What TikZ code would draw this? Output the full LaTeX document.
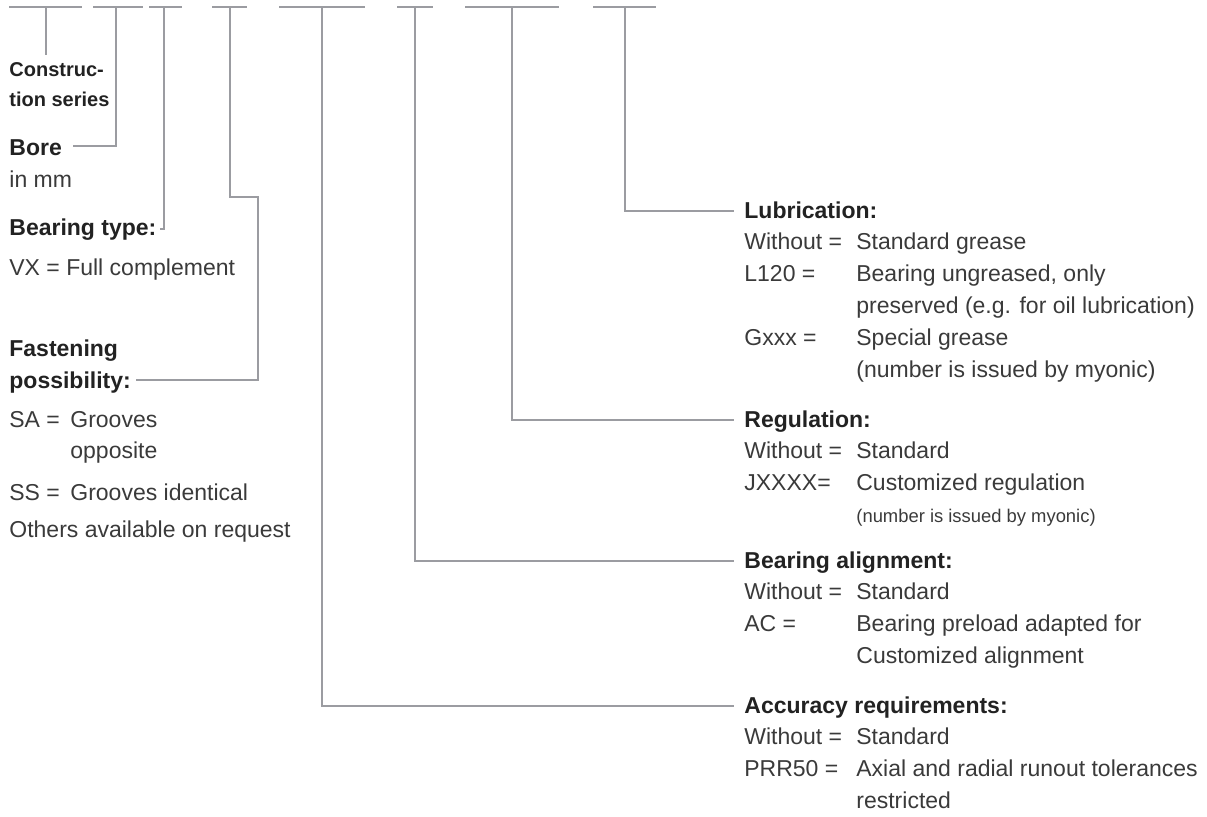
\documentclass[tikz,border=0pt]{standalone}
\usepackage{fontspec}
\setmainfont{Liberation Sans}
\usetikzlibrary{calc}
\usepackage{xcolor}
\definecolor{lngray}{HTML}{9B9CA1}
\definecolor{txtdark}{HTML}{3A3A3A}
\definecolor{hddark}{HTML}{222222}
\newcommand{\hd}[1]{\textcolor{hddark}{\textbf{#1}}}

\begin{document}
\begin{tikzpicture}[x=0.5pt, y=-0.5pt,
    bar/.style={draw=lngray, line width=1.1pt},
    conn/.style={draw=lngray, line width=1.1pt},
    txt/.style={anchor=base west, inner sep=0pt, text=txtdark,
                font=\fontsize{11.5}{15.9}\selectfont}]
  \useasboundingbox (0,0) rectangle (1207,816);

  % code positions along the top
  \foreach \n/\l/\r/\m in {1/9/82/46, 2/93/143/116, 3/149/182/164, 4/212/247/230,
                           5/279/365/322, 6/397/433/415, 7/465/559/512, 8/593/656/625} {
    \draw[bar] (\l,7) -- (\r,7);
    \coordinate (t\n) at (\m,7);
  }

  % left column
  \node[txt, font=\fontsize{10}{15}\selectfont\bfseries, text=hddark] (cs) at (9,76)
        {\begin{tabular}[t]{@{}l@{}}Construc-\\tion series\end{tabular}};
  \node[txt] (bore) at (9,155) {\hd{Bore}};
  \node[txt] (inmm) at (9,187) {in mm};
  \node[txt] (btype) at (9,235) {\hd{Bearing type:}};
  \node[txt] (vx) at (9,275) {VX = Full complement};
  \node[txt] (fasten) at (9,388)
        {\begin{tabular}[b]{@{}l@{}}\hd{Fastening}\\\hd{possibility:}\end{tabular}};
  \node[txt] (fopts) at (9,427) {\begin{tabular}[t]{@{}p{30.5pt}@{}l@{}}
        SA = & Grooves\\
             & opposite\\[4.7pt]
        SS = & Grooves identical\\[3pt]
        \multicolumn{2}{@{}l@{}}{Others available on request}
      \end{tabular}};

  % right column
  \node[txt] (lub) at (744,218) {\begin{tabular}[t]{@{}p{56pt}@{}l@{}}
        \multicolumn{2}{@{}l@{}}{\hd{Lubrication:}}\\
        Without = & Standard grease\\
        L120 =    & Bearing ungreased, only\\
                  & preserved (e.g. for oil lubrication)\\
        Gxxx =    & Special grease\\
                  & (number is issued by myonic)
      \end{tabular}};
  \node[txt] (reg) at (744,427) {\begin{tabular}[t]{@{}p{56pt}@{}l@{}}
        \multicolumn{2}{@{}l@{}}{\hd{Regulation:}}\\
        Without = & Standard\\
        JXXXX=    & Customized regulation\\
                  & {\fontsize{9.2}{15.9}\selectfont (number is issued by myonic)}
      \end{tabular}};
  \node[txt] (align) at (744,568) {\begin{tabular}[t]{@{}p{56pt}@{}l@{}}
        \multicolumn{2}{@{}l@{}}{\hd{Bearing alignment:}}\\
        Without = & Standard\\
        AC =      & Bearing preload adapted for\\
                  & Customized alignment
      \end{tabular}};
  \node[txt] (acc) at (744,713) {\begin{tabular}[t]{@{}p{56pt}@{}l@{}}
        \multicolumn{2}{@{}l@{}}{\hd{Accuracy requirements:}}\\
        Without = & Standard\\
        PRR50 =   & Axial and radial runout tolerances\\
                  & restricted
      \end{tabular}};

  % leader lines
  \draw[conn] (t1) -- (t1 |- cs.north);
  \draw[conn] (t2) |- ($(bore.base east)+(11,-9)$);
  \draw[conn] (t3) |- ($(btype.base east)+(3,-6)$);
  \draw[conn] (t4) |- ++(28,190) |- ($(fasten.base east)+(5,-8)$);
  \foreach \t/\b in {8/lub, 7/reg, 6/align, 5/acc}
    \draw[conn] (t\t) |- ($(\b.base west)+(-10,-7)$);
\end{tikzpicture}
\end{document}
